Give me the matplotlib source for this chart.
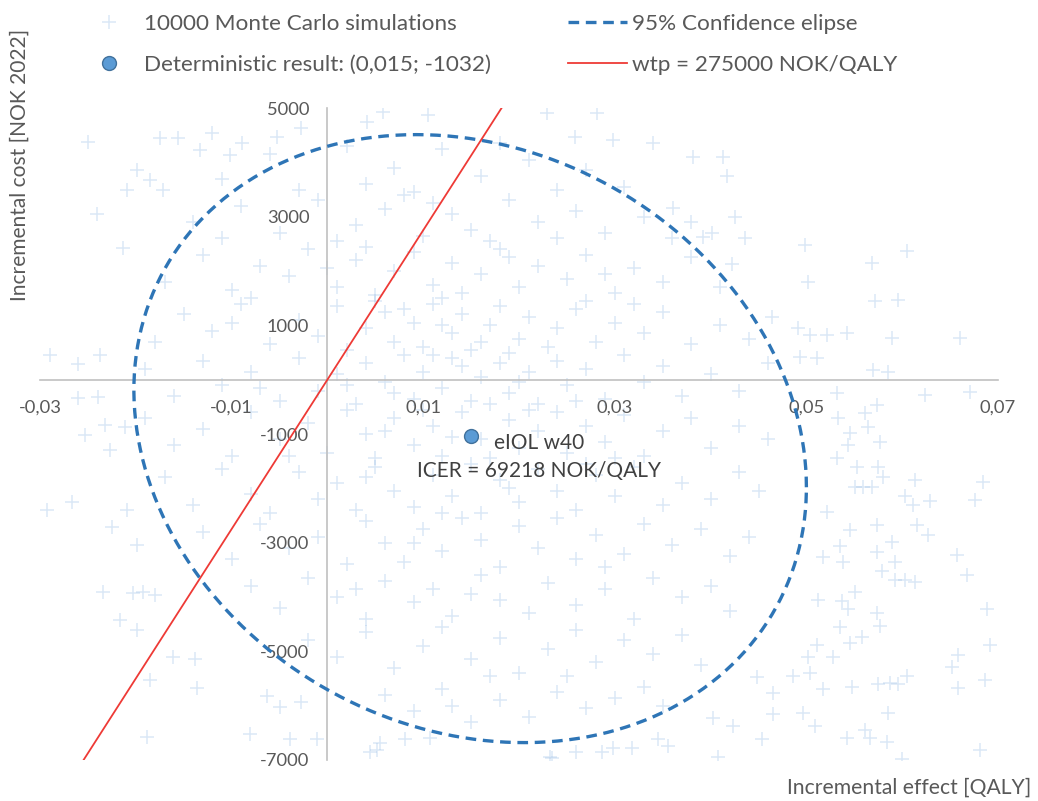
import numpy as np
import matplotlib
matplotlib.use("Agg")
import matplotlib.pyplot as plt
from matplotlib.lines import Line2D

plt.rcParams['font.family'] = ['Lato', 'DejaVu Sans']

# ---------------- data ----------------
x_ticks = [-0.03, -0.01, 0.01, 0.03, 0.05, 0.07]
x_tick_labels = ["-0,03", "-0,01", "0,01", "0,03", "0,05", "0,07"]
y_ticks = [-7000, -5000, -3000, -1000, 1000, 3000, 5000]
y_tick_labels = ["-7000", "-5000", "-3000", "-1000", "1000", "3000", "5000"]

# Monte Carlo simulations (incremental effect, incremental cost), sampled by region
mc_top = [(0.0058, 4930), (0.0105, 4880), (0.0229, 4910), (0.0281, 4910), (0.0258, 4470),
          (0.0298, 4420), (0.0340, 4360), (0.0041, 4750), (-0.0250, 4380), (-0.0175, 4450),
          (-0.0156, 4450), (-0.0133, 4230), (-0.0120, 4545), (-0.0089, 4360), (-0.0102, 4140),
          (-0.0053, 4470), (-0.0028, 4640)]
mc_left = [(-0.0199, 3860), (-0.0185, 3680), (-0.0209, 3500), (-0.0172, 3500), (-0.0240, 3040),
           (-0.0213, 2430), (-0.0290, 460), (-0.0260, 280), (-0.0237, 460), (-0.0260, -330),
           (-0.0239, -310), (-0.0253, -1010), (-0.0232, -830), (-0.0227, -1290), (-0.0211, -880),
           (-0.0293, -2390), (-0.0267, -2250), (-0.0209, -2390), (-0.0225, -2720), (-0.0199, -3040),
           (-0.0234, -3900), (-0.0203, -3920), (-0.0192, -3900), (-0.0180, -3960), (-0.0216, -4420),
           (-0.0199, -4600), (-0.0161, -5100), (-0.0138, -5150), (-0.0136, -5670), (-0.0188, -6570),
           (-0.0185, -5520), (-0.0081, -6530), (-0.0063, -5830), (-0.0050, -6020), (-0.0028, -5940),
           (-0.0039, -6620), (-0.0011, -6620)]
mc_right = [(0.0382, 4100), (0.0413, 4100), (0.0417, 3740), (0.0361, 3160), (0.0425, 3000),
            (0.0392, 2630), (0.0401, 2700), (0.0436, 2610), (0.0499, 2480), (0.0605, 2360),
            (0.0568, 2150), (0.0422, 2120), (0.0502, 1790), (0.0572, 1440), (0.0596, 1470),
            (0.0464, 1160), (0.0491, 960), (0.0504, 830), (0.0522, 830), (0.0542, 860),
            (0.0589, 770), (0.0660, 770), (0.0493, 420), (0.0511, 400), (0.0570, 180),
            (0.0585, 150), (0.0671, -220), (0.0532, -240), (0.0574, -460), (0.0624, -280),
            (0.0561, -610), (0.0564, -880), (0.0533, -700), (0.0546, -980), (0.0543, -1200),
            (0.0577, -1140), (0.0532, -1440), (0.0553, -1600), (0.0575, -1600), (0.0580, -1790),
            (0.0551, -1970), (0.0559, -1970), (0.0568, -1970), (0.0613, -1840), (0.0684, -1880),
            (0.0603, -2150), (0.0611, -2300), (0.0629, -2240), (0.0676, -2210), (0.0522, -2430),
            (0.0546, -2760), (0.0574, -2670), (0.0615, -2670), (0.0627, -2850), (0.0589, -2980),
            (0.0657, -3220), (0.0535, -3070), (0.0517, -3260), (0.0538, -3350), (0.0574, -3180),
            (0.0593, -3350), (0.0579, -3530), (0.0593, -3680), (0.0603, -3680), (0.0613, -3720),
            (0.0668, -3590), (0.0551, -3900), (0.0512, -4050), (0.0537, -4080), (0.0543, -4230),
            (0.0574, -4290), (0.0577, -4540), (0.0689, -4230), (0.0558, -4730), (0.0535, -4560),
            (0.0546, -4840), (0.0511, -4880), (0.0528, -5100), (0.0502, -5100), (0.0658, -5060),
            (0.0692, -4880), (0.0652, -5280), (0.0486, -5460), (0.0504, -5390), (0.0517, -5700),
            (0.0548, -5650), (0.0575, -5610), (0.0587, -5580), (0.0596, -5610), (0.0605, -5460),
            (0.0658, -5670), (0.0686, -5520), (0.0496, -6130), (0.0509, -6380), (0.0585, -6130),
            (0.0542, -6590), (0.0561, -6440), (0.0566, -6590), (0.0584, -6660), (0.0600, -6990),
            (0.0681, -6810)]
mc_bottom = [(0.0234, -6960), (0.0260, -6850), (0.0287, -6850), (0.0298, -6770), (0.0318, -6770),
             (0.0345, -6620), (0.0356, -6750), (0.0408, -6940), (0.0454, -6620), (0.0423, -6380),
             (0.0403, -6220), (0.0465, -6160), (0.0448, -5480), (0.0465, -5760), (0.0044, -6860),
             (0.0055, -6680), (0.0052, -6810), (0.0081, -6620), (0.0107, -6590), (0.0232, -6940)]
mc_core = [
    (-0.006, 4150), (0.002, 4300), (0.007, 3900), (0.012, 4250), (0.016, 3750), (0.021, 4050),
    (0.027, 3850), (-0.011, 3700), (0.004, 3600), (0.031, 3550), (0.018, 4350), (0.009, 3450),
    (-0.003, 3500), (0.024, 3500),
    (-0.014, 2900), (-0.009, 3200), (-0.005, 2700), (-0.001, 3300), (0.003, 2850), (0.006, 3150),
    (0.010, 2650), (0.013, 3050), (0.015, 2750), (0.019, 3300), (0.022, 2900), (0.026, 3100),
    (0.029, 2700), (0.033, 3000), (0.036, 2600), (0.001, 2550), (0.008, 3400), (0.017, 2550),
    (-0.011, 2600), (0.024, 2600), (0.011, 3250), (0.038, 2900),
    (-0.017, 1800), (-0.013, 2300), (-0.010, 1650), (-0.007, 2100), (-0.004, 1900), (-0.002, 2400),
    (0.001, 1700), (0.003, 2200), (0.005, 1550), (0.007, 2000), (0.009, 2350), (0.011, 1750),
    (0.013, 2150), (0.014, 1600), (0.016, 1950), (0.018, 2400), (0.020, 1700), (0.022, 2100),
    (0.025, 1850), (0.027, 2300), (0.030, 1600), (0.032, 2050), (0.035, 1800), (0.038, 2250),
    (0.041, 1700), (0.004, 2450), (0.012, 1500), (0.019, 2250), (0.029, 1950), (-0.008, 1500),
    (0.000, 2050),
    (-0.018, 700), (-0.015, 1200), (-0.012, 900), (-0.009, 1400), (-0.006, 650), (-0.003, 1100),
    (-0.001, 800), (0.001, 1350), (0.002, 550), (0.004, 950), (0.006, 1250), (0.007, 700),
    (0.009, 1050), (0.010, 600), (0.011, 1400), (0.013, 850), (0.014, 1200), (0.015, 550),
    (0.017, 1000), (0.018, 1350), (0.020, 750), (0.021, 1150), (0.023, 600), (0.024, 950),
    (0.026, 1300), (0.028, 700), (0.030, 1050), (0.033, 850), (0.035, 1250), (0.038, 650),
    (0.041, 1000), (0.044, 750), (0.005, 1450), (0.012, 1000), (0.019, 500), (0.027, 1450),
    (-0.010, 1050), (0.008, 1300), (0.016, 700), (0.032, 1400),
    (-0.019, 200), (-0.016, -300), (-0.013, 350), (-0.011, -100), (-0.008, 150), (-0.005, -400),
    (-0.003, 400), (-0.001, -200), (0.001, 100), (0.003, -450), (0.004, 300), (0.006, -50),
    (0.008, 450), (0.009, -350), (0.010, 150), (0.012, -150), (0.013, 400), (0.015, -400),
    (0.016, 50), (0.018, 300), (0.019, -250), (0.021, 150), (0.022, -450), (0.024, 350),
    (0.025, -100), (0.027, 200), (0.029, -350), (0.031, 450), (0.033, -50), (0.035, 250),
    (0.037, -300), (0.040, 100), (0.043, -200), (0.046, 300), (0.007, -250), (0.014, 250),
    (0.020, -50), (0.011, 450), (-0.007, -150), (0.002, -100), (0.026, -400), (0.017, -450),
    (-0.019, -700), (-0.016, -1200), (-0.013, -900), (-0.010, -1400), (-0.008, -600), (-0.005, -1100),
    (-0.002, -800), (0.000, -1350), (0.002, -550), (0.004, -1000), (0.005, -1450), (0.007, -700),
    (0.009, -1200), (0.011, -850), (0.012, -1400), (0.014, -600), (0.016, -1100), (0.017, -1450),
    (0.019, -750), (0.020, -1250), (0.022, -950), (0.024, -600), (0.025, -1350), (0.027, -850),
    (0.029, -1150), (0.031, -650), (0.033, -1400), (0.035, -950), (0.038, -700), (0.040, -1250),
    (0.043, -850), (0.046, -1100), (0.006, -950), (0.013, -1050), (0.021, -550), (0.030, -1450),
    (-0.004, -1400), (0.010, -550),
    (-0.017, -1800), (-0.014, -2300), (-0.011, -1650), (-0.008, -2100), (-0.006, -2450), (-0.003, -1700),
    (-0.001, -2200), (0.001, -1900), (0.003, -2400), (0.005, -1600), (0.007, -2050), (0.009, -2350),
    (0.011, -1750), (0.013, -2150), (0.015, -1550), (0.016, -2450), (0.018, -1850), (0.020, -2250),
    (0.022, -1650), (0.024, -2050), (0.026, -2400), (0.028, -1750), (0.030, -2150), (0.032, -1600),
    (0.035, -2300), (0.037, -1900), (0.040, -2200), (0.043, -1700), (0.045, -2050), (0.012, -2450),
    (0.019, -2000), (0.027, -1550), (0.004, -1800),
    (-0.013, -2800), (-0.010, -3300), (-0.007, -2650), (-0.004, -3100), (-0.001, -2900), (0.002, -3400),
    (0.004, -2600), (0.006, -3000), (0.008, -3350), (0.010, -2750), (0.012, -3150), (0.014, -2550),
    (0.016, -2950), (0.018, -3450), (0.020, -2700), (0.022, -3100), (0.024, -2550), (0.026, -3300),
    (0.028, -2850), (0.031, -3200), (0.033, -2650), (0.036, -3050), (0.039, -2750), (0.042, -3250),
    (0.044, -2900), (0.009, -3000), (0.029, -3450),
    (-0.008, -3800), (-0.005, -4200), (-0.002, -3650), (0.001, -4000), (0.004, -4400), (0.006, -3700),
    (0.009, -4100), (0.011, -3850), (0.013, -4350), (0.016, -3600), (0.018, -4050), (0.021, -4300),
    (0.023, -3750), (0.026, -4150), (0.029, -3850), (0.032, -4400), (0.034, -3650), (0.037, -4000),
    (0.040, -3800), (0.042, -4250), (0.015, -3950), (0.003, -3850),
    (-0.002, -4800), (0.001, -5100), (0.004, -4650), (0.007, -5300), (0.010, -4900), (0.012, -4550),
    (0.015, -5150), (0.018, -4750), (0.020, -5400), (0.023, -4950), (0.026, -4600), (0.028, -5200),
    (0.031, -4800), (0.034, -5050), (0.037, -4700), (0.039, -5250), (0.017, -5450), (0.025, -5450),
    (0.006, -5800), (0.009, -6100), (0.012, -5700), (0.015, -6300), (0.018, -5900), (0.021, -6200),
    (0.024, -5750), (0.027, -6050), (0.030, -5850), (0.033, -5650), (0.035, -6000), (0.013, -6000),
]

# deterministic result
det_effect = [0.015]
det_cost = [-1032]
det_label = "eIOL w40\nICER = 69218 NOK/QALY"

# willingness-to-pay line
wtp = 275000
wtp_cost_range = [-7000, 5000]

# 95 % confidence ellipse (centre, half extents, correlation)
ell_center = (0.0149, -1085)
ell_half = (0.0351, 5595)
ell_rho = -0.16

# ---------------- figure ----------------
W, H = 1038, 801
fig = plt.figure(figsize=(W / 100, H / 100), dpi=100)
ax = fig.add_axes([40 / W, 41 / H, 958 / W, 652 / H])
ax.set_xlim(-0.03, 0.07)
ax.set_ylim(-7000, 5000)

mc = np.array(mc_top + mc_left + mc_right + mc_bottom + mc_core)
mc_color = '#8fb8e3'
mc_alpha = 0.32
ax.plot(mc[:, 0], mc[:, 1], linestyle='none', marker='+', ms=10, mew=1.1,
        color=mc_color, alpha=mc_alpha, zorder=1)

# confidence ellipse
t = np.linspace(0, 2 * np.pi, 400)
ex = ell_center[0] + ell_half[0] * np.cos(t)
ey = ell_center[1] + ell_half[1] * (ell_rho * np.cos(t) + np.sqrt(1 - ell_rho ** 2) * np.sin(t))
ax.plot(ex, ey, color='#2e75b6', lw=2.4, dashes=(3.2, 2.0), zorder=3)

# wtp line
wx = [c / wtp for c in wtp_cost_range]
ax.plot(wx, wtp_cost_range, color='#ee3a36', lw=1.3, zorder=4)

# deterministic point
ax.plot(det_effect, det_cost, linestyle='none', marker='o', ms=10,
        mfc='#5b9bd5', mec='#41719c', mew=1.0, zorder=5)
ax.annotate(det_label, xy=(det_effect[0], det_cost[0]), xytext=(49, -15.5),
            textcoords='offset points', ha='center', va='center', multialignment='center',
            fontsize=15, color='#404040', linespacing=1.5, zorder=6)

# axes styling (Excel-like, crossing at zero)
for s in ['top', 'right']:
    ax.spines[s].set_visible(False)
for s in ['left', 'bottom']:
    ax.spines[s].set_position(('data', 0))
    ax.spines[s].set_color('#c0c0c0')
    ax.spines[s].set_linewidth(1.2)
    ax.spines[s].set_zorder(2)
ax.set_xticks(x_ticks)
ax.set_xticklabels(x_tick_labels)
ax.set_yticks(y_ticks)
ax.set_yticklabels(y_tick_labels)
ax.tick_params(length=0, labelsize=13.2, labelcolor='#595959')
ax.tick_params(axis='x', pad=14.5)
ax.tick_params(axis='y', pad=13)
ax.set_facecolor('none')

# axis titles
fig.text(20 / W, 1 - 165 / H, "Incremental cost [NOK 2022]", rotation=90,
         ha='center', va='center', fontsize=15.1, color='#595959')
fig.text(1031 / W, 1 - 788 / H, "Incremental effect [QALY]", ha='right', va='center',
         fontsize=15.2, color='#595959')

# legend (two columns)
h_mc = Line2D([], [], linestyle='none', marker='+', ms=10, mew=1.1, color=mc_color, alpha=mc_alpha)
h_det = Line2D([], [], linestyle='none', marker='o', ms=10, mfc='#5b9bd5', mec='#41719c', mew=1.0)
h_ell = Line2D([], [], color='#2e75b6', lw=2.4, dashes=(3.2, 2.0))
h_wtp = Line2D([], [], color='#ee3a36', lw=1.3)
leg_kw = dict(loc='upper left', frameon=False, handlelength=2.62, handletextpad=0.22,
              labelspacing=0.93, fontsize=16.2, borderaxespad=0, borderpad=0,
              labelcolor='#595959')
fig.legend([h_mc, h_det], ["10000 Monte Carlo simulations", "Deterministic result: (0,015; -1032)"],
           bbox_to_anchor=(80 / W, 1 - 14 / H), **leg_kw)
fig.legend([h_ell, h_wtp], ["95% Confidence elipse", "wtp = 275000 NOK/QALY"],
           bbox_to_anchor=(568 / W, 1 - 14 / H), **leg_kw)

fig.savefig('out.png', dpi=100)
